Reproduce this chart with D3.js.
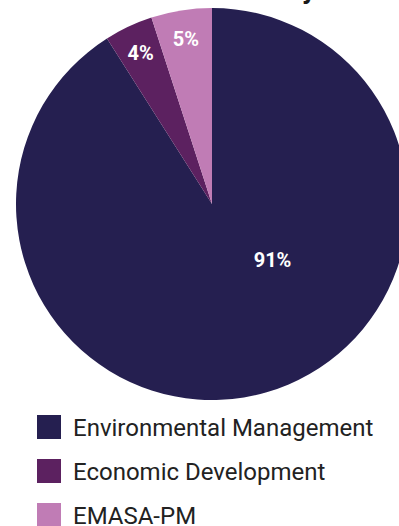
<!doctype html>
<html lang="en">
<head>
  <meta charset="utf-8">
  <title>pie</title>
  <style>
    body { margin: 0; background: #fff; }
    svg { display: block; font-family: Roboto, sans-serif; }
    .slice-label { fill: #fff; font-weight: 700; font-size: 20px; }
    .legend text { fill: #222; font-size: 24px; }
  </style>
</head>
<body>
  <div class="chart"></div>
  <script src="https://d3js.org/d3.v7.min.js"></script>
  <script>
    'use strict';

    const categories = ['Environmental Management', 'Economic Development', 'EMASA-PM'];
    const values = [91, 4, 5];
    const colors = ['#251f50', '#5c2160', '#c07cb5'];
    const titleText = 'Allocation Share Summary';

    const width = 399;
    const height = 526;
    const cx = 212;
    const cy = 204;
    const radius = 196;

    const svg = d3.select('.chart').append('svg')
      .attr('width', width)
      .attr('height', height);

    // title sits above the frame, only the last descender shows
    svg.append('text')
      .attr('x', 316)
      .attr('y', -2)
      .attr('text-anchor', 'end')
      .style('font-size', '28px')
      .style('font-weight', 700)
      .style('fill', '#1a1a1a')
      .text(titleText);

    const data = categories.map((c, i) => ({name: c, value: values[i], color: colors[i]}));

    const pie = d3.pie()
      .sort(null)
      .value(d => d.value);

    const arc = d3.arc()
      .innerRadius(0)
      .outerRadius(radius);

    const g = svg.append('g')
      .attr('transform', `translate(${cx},${cy})`);

    const arcs = pie(data);

    g.selectAll('path')
      .data(arcs)
      .enter().append('path')
      .attr('d', arc)
      .attr('fill', d => d.data.color);

    // small slices: label near the rim; big slice: label pushed toward lower right
    function labelPos(d) {
      const span = d.endAngle - d.startAngle;
      let a = (d.startAngle + d.endAngle) / 2;
      let r = radius * 0.855;
      if (span > Math.PI) {
        a = d.startAngle + span * 0.405;
        r = radius * 0.42;
      }
      return [Math.sin(a) * r, -Math.cos(a) * r];
    }

    g.selectAll('.slice-label')
      .data(arcs)
      .enter().append('text')
      .attr('class', 'slice-label')
      .attr('text-anchor', 'middle')
      .attr('dy', '0.36em')
      .attr('transform', d => `translate(${labelPos(d)})`)
      .text(d => d.data.value + '%');

    const legend = svg.append('g')
      .attr('class', 'legend')
      .attr('transform', 'translate(37,415)');

    const item = legend.selectAll('g')
      .data(data)
      .enter().append('g')
      .attr('transform', (d, i) => `translate(0,${i * 44})`);

    item.append('rect')
      .attr('width', 24)
      .attr('height', 24)
      .attr('fill', d => d.color);

    item.append('text')
      .attr('x', 36)
      .attr('y', 12)
      .attr('dy', '0.36em')
      .text(d => d.name);
  </script>
</body>
</html>
